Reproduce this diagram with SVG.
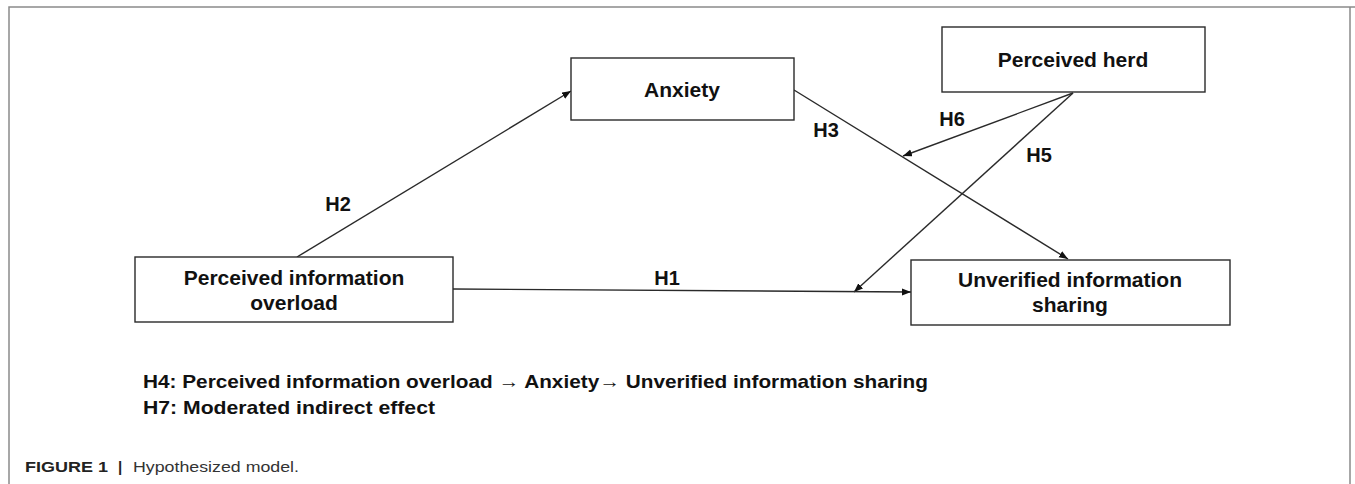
<svg xmlns="http://www.w3.org/2000/svg" width="1355" height="484" viewBox="0 0 1355 484">
<style>
.box{fill:#fff;stroke:#2a2a2a;stroke-width:1.4}
.t{font-family:"Liberation Sans",Arial,sans-serif;font-weight:bold;font-size:21px;fill:#111;text-anchor:middle}
.lab{font-family:"Liberation Sans",Arial,sans-serif;font-weight:bold;font-size:20px;fill:#111;text-anchor:middle}
.note{font-family:"Liberation Sans",Arial,sans-serif;font-weight:bold;font-size:19px;fill:#111}
.c{stroke:#2a2a2a;stroke-width:1.4;fill:none;marker-end:url(#ah)}
</style>
<defs>
<marker id="ah" markerUnits="userSpaceOnUse" markerWidth="10" markerHeight="8" refX="9" refY="3.5" orient="auto">
<path d="M0,0 L9,3.5 L0,7 z" fill="#111"/>
</marker>
</defs>
<rect width="1355" height="484" fill="#fff"/>
<path d="M9,484 V7 H1355 M1350,7 V484" fill="none" stroke="#8a8a8a" stroke-width="1.5"/>
<g id="connectors">
<line class="c" x1="297" y1="257" x2="571" y2="91"/>
<line class="c" x1="794" y1="90" x2="1068" y2="259"/>
<line class="c" x1="1073" y1="93" x2="903" y2="156"/>
<line class="c" x1="1073" y1="93" x2="854" y2="292"/>
<line class="c" x1="453" y1="289" x2="911" y2="292"/>
<text class="lab" x="338" y="211">H2</text>
<text class="lab" x="826" y="137">H3</text>
<text class="lab" x="952" y="126">H6</text>
<text class="lab" x="1039" y="162">H5</text>
<text class="lab" x="667" y="285">H1</text>
</g>
<g id="anxiety">
<rect class="box" x="571" y="58" width="223" height="62"/>
<text class="t" x="682" y="97">Anxiety</text>
</g>
<g id="perceived-herd">
<rect class="box" x="942" y="27" width="263" height="65"/>
<text class="t" x="1073" y="67">Perceived herd</text>
</g>
<g id="perceived-information-overload">
<rect class="box" x="135" y="257" width="318" height="65"/>
<text class="t" x="294" y="285">Perceived information</text>
<text class="t" x="294" y="310">overload</text>
</g>
<g id="unverified-information-sharing">
<rect class="box" x="911" y="260" width="319" height="65"/>
<text class="t" x="1070" y="287">Unverified information</text>
<text class="t" x="1070" y="312">sharing</text>
</g>
<g id="notes">
<text class="note" x="143" y="388" textLength="785" lengthAdjust="spacingAndGlyphs">H4: Perceived information overload → Anxiety→ Unverified information sharing</text>
<text class="note" x="143" y="414" textLength="292" lengthAdjust="spacingAndGlyphs">H7: Moderated indirect effect</text>
</g>
<g id="caption">
<text x="25" y="472" font-family="'Liberation Sans',Arial,sans-serif" font-size="15px" fill="#222"><tspan font-weight="bold" textLength="83" lengthAdjust="spacingAndGlyphs">FIGURE 1</tspan><tspan x="118" font-weight="bold">|</tspan><tspan x="133" fill="#333" textLength="166" lengthAdjust="spacingAndGlyphs">Hypothesized model.</tspan></text>
</g>
</svg>
